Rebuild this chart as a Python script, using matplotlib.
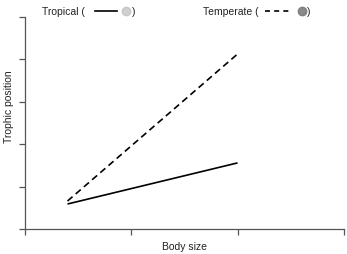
import matplotlib.pyplot as plt
from matplotlib.lines import Line2D

plt.rcParams['font.family'] = ['Liberation Sans', 'DejaVu Sans']

# Data (axis units)
body_size = [0.4, 2.0]
tropical = [0.59, 1.56]
temperate = [0.66, 4.13]
x_ticks = [0, 1, 2, 3]
y_ticks = [0, 1, 2, 3, 4, 5]

fig = plt.figure(figsize=(3.47, 2.55), dpi=100)
ax = fig.add_axes([0.072, 0.098, 0.919, 0.831])

ax.plot(body_size, tropical, color="black", lw=1.2, solid_capstyle="butt")
ax.plot(body_size, temperate, color="black", lw=1.2, ls=(0, (4, 2.5)))

ax.set_xlim(0, 3)
ax.set_ylim(0, 5)
ax.set_xticks(x_ticks)
ax.set_yticks(y_ticks)
ax.set_xticklabels([])
ax.set_yticklabels([])
for s in ["top", "right"]:
    ax.spines[s].set_visible(False)
for s in ["left", "bottom"]:
    ax.spines[s].set_color("#555555")
    ax.spines[s].set_linewidth(0.9)
ax.tick_params(direction="out", length=4, width=0.9, color="#555555")

W, H = 347.0, 255.0
# axis titles placed in figure pixels
fig.text(185 / W, 1 - 247 / H, "Body size", fontsize=7.5, color="#222222",
         ha="center", va="center")
fig.text(9 / W, 1 - 107 / H, "Trophic position", fontsize=7.5, color="#222222",
         ha="center", va="center", rotation=90)

# Header legend
ty = 1 - 12 / H
fig.text(42 / W, ty, "Tropical (", fontsize=7.5, color="#222222", va="center")
fig.add_artist(Line2D([95 / W, 117 / W], [ty, ty], color="black", lw=1.2))
fig.add_artist(Line2D([126 / W], [ty], marker="o", ms=6, color="#d0d0d0", mec="#c8c8c8"))
fig.text(132 / W, ty, ")", fontsize=7.5, color="#222222", va="center")

fig.text(203 / W, ty, "Temperate (", fontsize=7.5, color="#222222", va="center")
fig.add_artist(Line2D([265 / W, 292 / W], [ty, ty], color="black", lw=1.2, ls=(0, (3, 2.5))))
fig.add_artist(Line2D([302 / W], [ty], marker="o", ms=6, color="#8a8a8a", mec="#808080"))
fig.text(307 / W, ty, ")", fontsize=7.5, color="#222222", va="center")

fig.savefig("out.png", dpi=100)
